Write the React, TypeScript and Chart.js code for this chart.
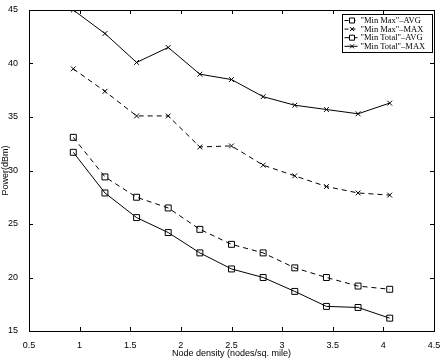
import { useEffect, useRef } from 'react';
import { Chart, registerables } from 'chart.js';

Chart.register(...registerables);

// Node density (nodes per square mile)
const density = [0.9375, 1.25, 1.5625, 1.875, 2.1875, 2.5, 2.8125, 3.125, 3.4375, 3.75, 4.0625];

// Transmit power (dBm) for each scheme
const minMaxAvg = [33.1, 29.4, 27.5, 26.5, 24.5, 23.1, 22.3, 20.9, 20.0, 19.2, 18.9];
const minMaxMax = [39.5, 37.4, 35.1, 35.1, 32.2, 32.3, 30.5, 29.5, 28.5, 27.9, 27.7];
const minTotalAvg = [31.7, 27.9, 25.6, 24.2, 22.3, 20.8, 20.0, 18.7, 17.3, 17.2, 16.2];
const minTotalMax = [45.0, 42.8, 40.1, 41.5, 39.0, 38.5, 36.9, 36.1, 35.7, 35.3, 36.3];

const seriesLabels = ['"Min Max"\u2013AVG', '"Min Max"\u2013MAX', '"Min Total"\u2013AVG', '"Min Total"\u2013MAX'];

const xTicks = [0.5, 1, 1.5, 2, 2.5, 3, 3.5, 4, 4.5];
const yTicks = [15, 20, 25, 30, 35, 40, 45];

const SANS = '"Liberation Sans", Arial, Helvetica, sans-serif';
const SERIF = '"Liberation Serif", "Times New Roman", serif';

type Style = { dash: number[]; point: 'rect' | 'crossRot'; radius: number };
const styles: Style[] = [
  { dash: [5, 4], point: 'rect', radius: 4.2 },
  { dash: [5, 4], point: 'crossRot', radius: 3.4 },
  { dash: [], point: 'rect', radius: 4.2 },
  { dash: [], point: 'crossRot', radius: 3.4 },
];

// Box, inward tick marks and the boxed legend in the upper-right corner
const framePlugin = {
  id: 'frameAndLegend',
  afterDatasetsDraw(chart: any) {
    const { ctx, chartArea, scales } = chart;
    const { left, right, top, bottom } = chartArea;
    const x = scales.x;
    const y = scales.y;
    ctx.save();
    ctx.strokeStyle = '#000';
    ctx.lineWidth = 1;
    ctx.setLineDash([]);
    ctx.strokeRect(Math.round(left) + 0.5, Math.round(top) + 0.5, Math.round(right - left), Math.round(bottom - top));
    const tl = 4;
    ctx.beginPath();
    for (const v of xTicks) {
      const px = Math.round(x.getPixelForValue(v)) + 0.5;
      ctx.moveTo(px, bottom);
      ctx.lineTo(px, bottom - tl);
      ctx.moveTo(px, top);
      ctx.lineTo(px, top + tl);
    }
    for (const v of yTicks) {
      const py = Math.round(y.getPixelForValue(v)) + 0.5;
      ctx.moveTo(left, py);
      ctx.lineTo(left + tl, py);
      ctx.moveTo(right, py);
      ctx.lineTo(right - tl, py);
    }
    ctx.stroke();

    // legend
    const bw = 90;
    const bh = 38;
    const bx = Math.round(right) - 92 + 0.5;
    const by = Math.round(top) + 4 + 0.5;
    ctx.fillStyle = '#fff';
    ctx.fillRect(bx, by, bw, bh);
    ctx.strokeRect(bx, by, bw, bh);
    ctx.font = `8.5px ${SERIF}`;
    ctx.textBaseline = 'middle';
    ctx.textAlign = 'left';
    chart.data.datasets.forEach((ds: any, i: number) => {
      const st = styles[i];
      const ry = by + 6 + i * 8.6;
      const lx0 = bx + 2;
      const lx1 = bx + 15;
      ctx.strokeStyle = '#000';
      ctx.lineWidth = 1;
      ctx.setLineDash(st.dash.length ? [4, 3] : []);
      ctx.beginPath();
      ctx.moveTo(lx0, ry);
      ctx.lineTo(lx1, ry);
      ctx.stroke();
      ctx.setLineDash([]);
      const cx = (lx0 + lx1) / 2 + 1;
      ctx.beginPath();
      if (st.point === 'rect') {
        ctx.fillStyle = '#fff';
        ctx.rect(cx - 2.5, ry - 2.5, 5, 5);
        ctx.fill();
        ctx.stroke();
      } else {
        ctx.moveTo(cx - 2, ry - 2);
        ctx.lineTo(cx + 2, ry + 2);
        ctx.moveTo(cx - 2, ry + 2);
        ctx.lineTo(cx + 2, ry - 2);
        ctx.stroke();
      }
      ctx.fillStyle = '#000';
      ctx.fillText(ds.label, bx + 18, ry + 0.5);
    });
    ctx.restore();
  },
};

export default function App() {
  const ref = useRef<HTMLCanvasElement>(null);

  useEffect(() => {
    document.body.style.margin = '0';
    const canvas = ref.current;
    if (!canvas) return;
    const series = [minMaxAvg, minMaxMax, minTotalAvg, minTotalMax];
    const chart = new Chart(canvas, {
      type: 'line',
      data: {
        datasets: series.map((vals, i) => ({
          label: seriesLabels[i],
          data: density.map((d, k) => ({ x: d, y: vals[k] })),
          borderColor: '#000',
          borderWidth: 1,
          borderDash: styles[i].dash,
          backgroundColor: 'rgba(0,0,0,0)',
          pointStyle: styles[i].point,
          pointRadius: styles[i].radius,
          pointBorderColor: '#000',
          pointBorderWidth: 1,
          pointBackgroundColor: 'rgba(0,0,0,0)',
          tension: 0,
          fill: false,
        })),
      },
      options: {
        animation: false,
        responsive: false,
        maintainAspectRatio: false,
        layout: { padding: { left: 0, right: 12, top: 10, bottom: 0 } },
        plugins: {
          legend: { display: false },
          tooltip: { enabled: false },
        },
        scales: {
          x: {
            type: 'linear',
            min: 0.5,
            max: 4.5,
            afterBuildTicks: (s: any) => {
              s.ticks = xTicks.map((v) => ({ value: v }));
            },
            grid: { display: false },
            border: { display: false },
            ticks: {
              color: '#000',
              font: { family: SANS, size: 9 },
              padding: 1,
              maxRotation: 0,
              autoSkip: false,
              callback: (v: any) => String(v),
            },
            title: {
              display: true,
              text: 'Node density (nodes/sq. mile)',
              color: '#000',
              font: { family: SANS, size: 9 },
              padding: { top: 4, bottom: 3 },
            },
            afterFit: (s: any) => {
              s.height = 31;
            },
          },
          y: {
            type: 'linear',
            min: 15,
            max: 45,
            afterBuildTicks: (s: any) => {
              s.ticks = yTicks.map((v) => ({ value: v }));
            },
            grid: { display: false },
            border: { display: false },
            ticks: {
              color: '#000',
              font: { family: SANS, size: 9 },
              padding: 3,
              autoSkip: false,
              callback: (v: any) => String(v),
            },
            title: {
              display: true,
              text: 'Power(dBm)',
              color: '#000',
              font: { family: SANS, size: 9 },
              padding: { top: 0, bottom: 0 },
            },
            afterFit: (s: any) => {
              s.width = 29;
            },
          },
        },
      },
      plugins: [framePlugin],
    });
    return () => chart.destroy();
  }, []);

  return (
    <div style={{ position: 'absolute', left: 0, top: 0, width: 446, height: 362, background: '#fff' }}>
      <canvas ref={ref} width={446} height={362} style={{ display: 'block', width: 446, height: 362 }} />
    </div>
  );
}
